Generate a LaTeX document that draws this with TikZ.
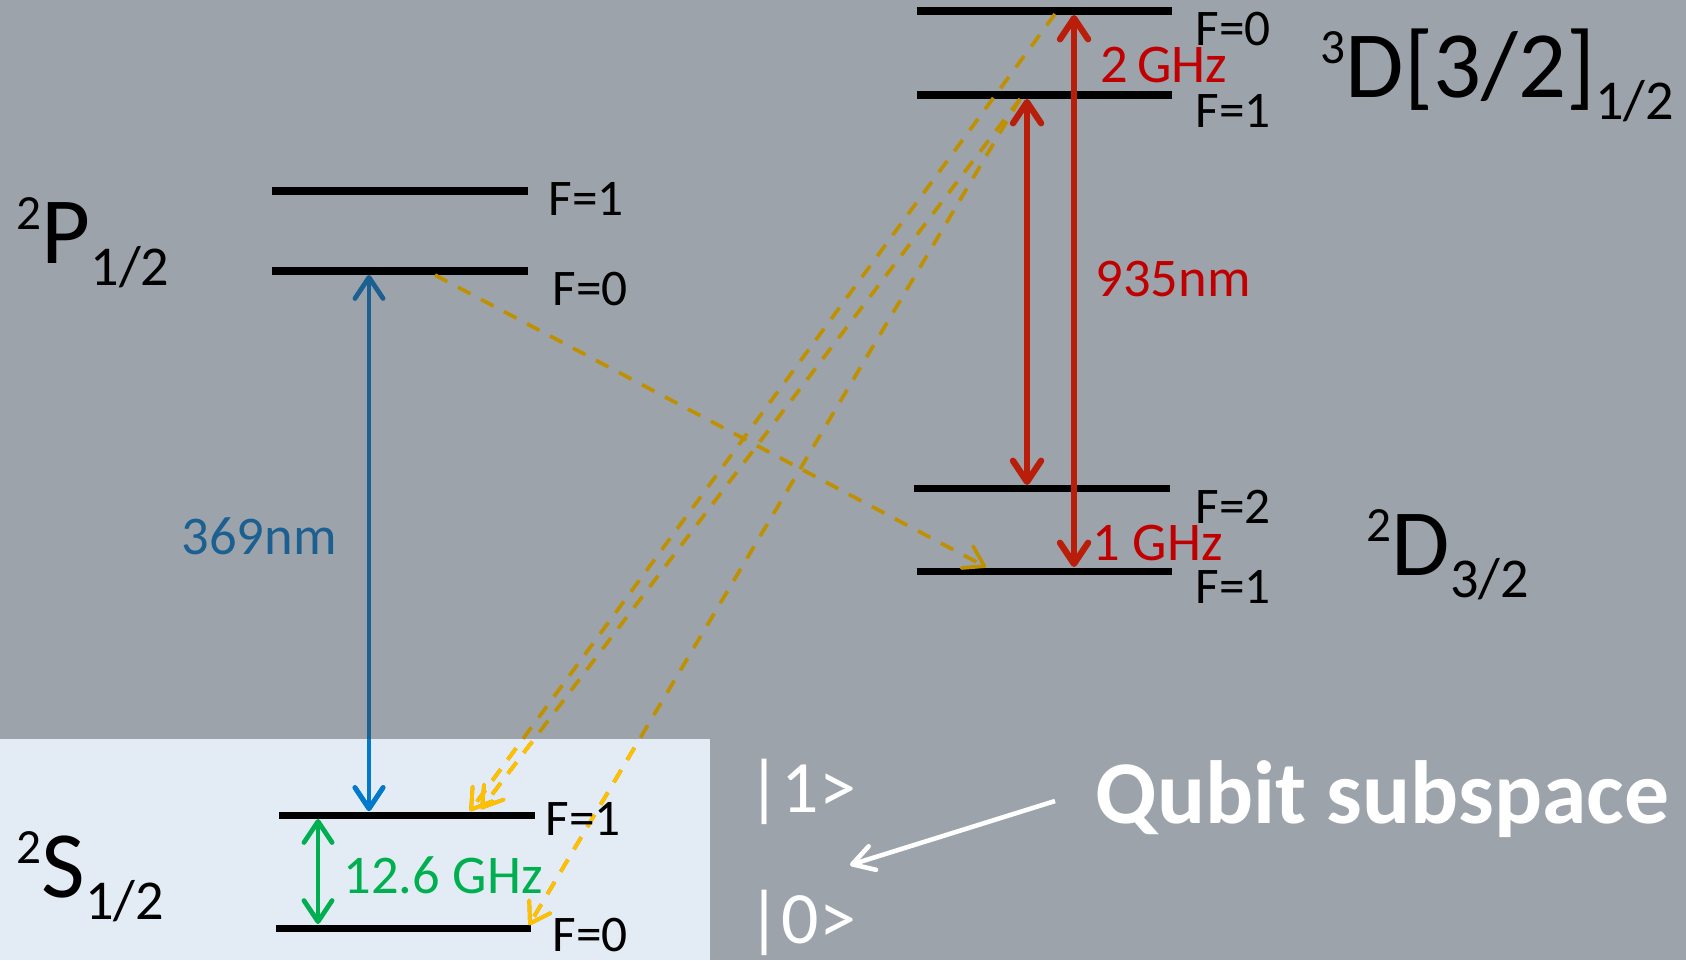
\documentclass[tikz,border=0pt]{standalone}
\usepackage{fontspec}
\setmainfont{Carlito}
\usetikzlibrary{arrows.meta}
\definecolor{bg}{RGB}{157,163,170}
\definecolor{lightbg}{RGB}{227,235,244}
\definecolor{dyel}{RGB}{191,144,0}
\definecolor{byel}{RGB}{255,192,0}
\definecolor{dblue}{RGB}{28,96,145}
\definecolor{bblue}{RGB}{0,122,204}
\definecolor{grn}{RGB}{0,176,80}
\definecolor{redline}{RGB}{185,30,10}
\definecolor{redtext}{RGB}{192,0,0}
\newcommand{\stlab}[3]{{\fontsize{14}{14}\selectfont\raisebox{9.5pt}{#1}}#2{\fontsize{16}{16}\selectfont\raisebox{-6.3pt}{#3}}}
\tikzset{
  level/.style={line width=2pt,black},
  flab/.style={font=\fontsize{14.6}{14.6}\selectfont,inner sep=0pt,anchor=base west},
  clab/.style={font=\fontsize{15.5}{15.5}\selectfont,inner sep=0pt,anchor=base west},
  biglab/.style={font=\fontsize{27}{27}\selectfont,inner sep=0pt,anchor=base west},
  whitelab/.style={font=\fontsize{21}{21}\selectfont,inner sep=0pt,anchor=base west,white},
  redarr/.style={line width=1.8pt,redline,{Straight Barb[length=6pt,width=8pt,round]}-{Straight Barb[length=6pt,width=8pt,round]}},
  thinarr/.style={line width=1.35pt,{Straight Barb[length=6pt,width=8pt,round]}-{Straight Barb[length=6pt,width=8pt,round]}},
  decay/.style={line width=1.05pt,dash pattern=on 4pt off 3.4pt,-{Straight Barb[length=5.5pt,width=7pt,round]}},
  whitearr/.style={line width=1.3pt,white,-{Straight Barb[length=6pt,width=7pt,round]}}
}
\begin{document}
\begin{tikzpicture}[x=0.01cm,y=-0.01cm]
\useasboundingbox (0,0) rectangle (1686,960);
\fill[bg] (0,0) rectangle (1686,960);
\fill[lightbg] (0,739) rectangle (710,960);
% level end points
\coordinate (Fa) at (917,11);  \coordinate (Fb) at (1172,11);
\coordinate (Ea) at (917,95);  \coordinate (Eb) at (1172,95);
\coordinate (Pa) at (272,191); \coordinate (Pb) at (528,191);
\coordinate (Qa) at (272,271); \coordinate (Qb) at (528,271);
\coordinate (Da) at (914,488); \coordinate (Db) at (1170,488);
\coordinate (Ca) at (917,571); \coordinate (Cb) at (1172,571);
\coordinate (Sa) at (279,815); \coordinate (Sb) at (535,815);
\coordinate (Ta) at (276,928); \coordinate (Tb) at (531,928);
% arrow end points
\coordinate (r1t) at (1027,99);  \coordinate (r1b) at (1027,485);
\coordinate (r2t) at (1074,15);  \coordinate (r2b) at (1074,567);
\coordinate (bt) at (369,275);   \coordinate (bb) at (369,811);
\coordinate (gt) at (318,819);   \coordinate (gb) at (318,924);
\coordinate (dPs) at (435,275);  \coordinate (dPe) at (986,567);
\coordinate (dAs) at (1055,14);  \coordinate (dAe) at (470,811);
\coordinate (dBs) at (1020,99);  \coordinate (dBe) at (481,809);
\coordinate (dCs) at (1020,99);  \coordinate (dCe) at (529,925);
\coordinate (wa) at (1055,801);  \coordinate (wb) at (850,865);
% levels
\draw[level] (Fa) -- (Fb);
\draw[level] (Ea) -- (Eb);
\draw[level] (Pa) -- (Pb);
\draw[level] (Qa) -- (Qb);
\draw[level] (Da) -- (Db);
\draw[level] (Ca) -- (Cb);
\draw[level] (Sa) -- (Sb);
\draw[level] (Ta) -- (Tb);
% decay lines
\draw[decay,dyel] (dPs) -- (dPe);
\draw[decay,dyel] (dAs) -- (dAe);
\draw[decay,dyel] (dBs) -- (dBe);
\draw[decay,dyel] (dCs) -- (dCe);
\draw[thinarr,dblue] (bt) -- (bb);
\begin{scope}
\clip (0,739) rectangle (710,960);
\draw[decay,byel] (dAs) -- (dAe);
\draw[decay,byel] (dBs) -- (dBe);
\draw[decay,byel] (dCs) -- (dCe);
\draw[thinarr,bblue] (bt) -- (bb);
\end{scope}
% red and green
\draw[redarr] (r1t) -- (r1b);
\draw[redarr] (r2t) -- (r2b);
\draw[thinarr,grn] (gt) -- (gb);
% F labels
\node[flab] (f3a) at (1195,45) {F=0};
\node[flab] (f3b) at (1195,127) {F=1};
\node[flab] (fp1) at (548,215) {F=1};
\node[flab] (fp0) at (552,305) {F=0};
\node[flab] (fd2) at (1195,523) {F=2};
\node[flab] (fd1) at (1195,603) {F=1};
\node[flab] (fs1) at (545,835) {F=1};
\node[flab] (fs0) at (552,951) {F=0};
% coloured labels
\node[clab,dblue] (l369) at (181,554) {369nm};
\node[clab,redtext] (l935) at (1095,296) {935nm};
\node[clab,redtext] (l2g) at (1100,82) {2\,GHz};
\node[clab,redtext] (l1g) at (1092,560) {1 GHz};
\node[clab,grn] (l126) at (343,893) {12.6 GHz};
% state labels
\node[biglab] (sP) at (16,263) {\stlab{2}{P}{1/2}};
\node[biglab] (sD3) at (1320,97) {\stlab{3}{D[3/2]}{1/2}};
\node[biglab] (sD) at (1366,575) {\stlab{2}{D}{3/2}};
\node[biglab] (sS) at (16,897) {\stlab{2}{S}{1/2}};
% qubit
\node[whitelab] (k1) at (747,812) {|1>};
\node[whitelab] (k0) at (747,943) {|0>};
\node[font=\fontsize{25.5}{25.5}\selectfont\bfseries,white,inner sep=0pt,anchor=base west] (qs) at (1095,823) {Qubit subspace};
\draw[whitearr] (wa) -- (wb);
\end{tikzpicture}
\end{document}
